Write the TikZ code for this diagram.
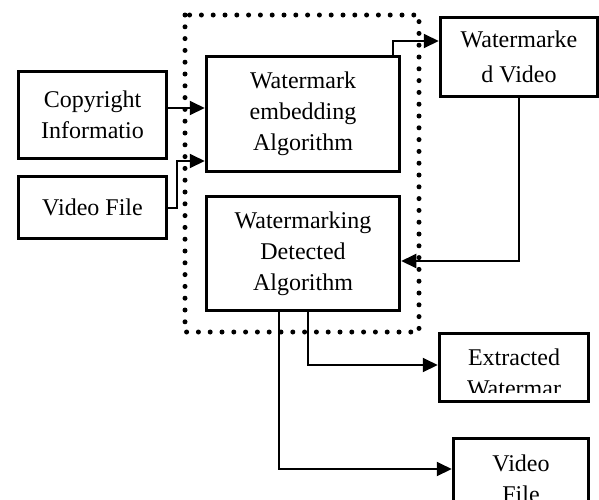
\documentclass[tikz,border=0pt]{standalone}
\usepackage{fontspec}
\setmainfont{Liberation Serif}
\usetikzlibrary{arrows.meta,calc}

\begin{document}
\begin{tikzpicture}[
  x=0.5pt,y=-0.5pt,
  font=\fontsize{12}{15.5}\selectfont,
  box/.style={draw,line width=1.75pt,align=center,inner sep=0pt},
  arrow/.style={-{Triangle[length=7.5pt,width=7pt]},line width=1pt},
  dotframe/.style={line width=2.5pt,line cap=round,dash pattern=on 0pt off 5.9pt}
]
% picture frame in pixel units of the reference (y grows downwards)
\clip (0,0) rectangle (599,499);

% input boxes on the left
\node[box,minimum width=74pt,minimum height=43.5pt] (copyright) at (92.5,115) {Copyright\\Informatio};
\node[box,minimum width=74pt,minimum height=31pt] (videoin) at (92.5,207.5) {Video File};

% the two algorithm boxes
\node[box,minimum width=96.5pt,minimum height=57.5pt] (embed) at (303,114) {Watermark\\embedding\\Algorithm};
\node[box,minimum width=96.5pt,minimum height=57pt] (detect) at (303,253.5) {Watermarking\\Detected\\Algorithm};

% output boxes on the right
\node[box,minimum width=78.5pt,minimum height=39.5pt,font=\fontsize{12}{17.5}\selectfont] (wmvideo) at (519,57) {Watermarke\\d Video};
\node[box,minimum width=74.5pt,minimum height=34pt] (extract) at (514,367.5) {};
\begin{scope}
  \clip ($(extract.north west)+(4,4)$) rectangle ($(extract.south east)+(-4,-11)$);
  \node[align=center,inner sep=0pt] (extracttext) at (514,373) {Extracted\\Watermar};
\end{scope}
\node[box,minimum width=67.5pt,minimum height=40pt] (videoout) at (521,478.5) {Video\\File};

\draw[arrow] ([yshift=3.5pt]copyright.east) -- ([yshift=3pt]embed.west);
\draw[arrow] (videoin.east) -- ++(9,0) |- ([yshift=-23.5pt]embed.west);
\draw[arrow] ([xshift=45pt]embed.north) |- ([yshift=8pt]wmvideo.west);
\draw[arrow] (wmvideo.south) |- ([yshift=-3.75pt]detect.east);
\draw[arrow] ([xshift=2.5pt,yshift=1pt]detect.south) |- ([yshift=1.25pt]extract.west);
\draw[arrow] ([xshift=-12pt]detect.south) |- ([yshift=4.75pt]videoout.west);

% dotted frame round the algorithms
\draw[dotframe] (185,15) rectangle (419,332);
\end{tikzpicture}
\end{document}
